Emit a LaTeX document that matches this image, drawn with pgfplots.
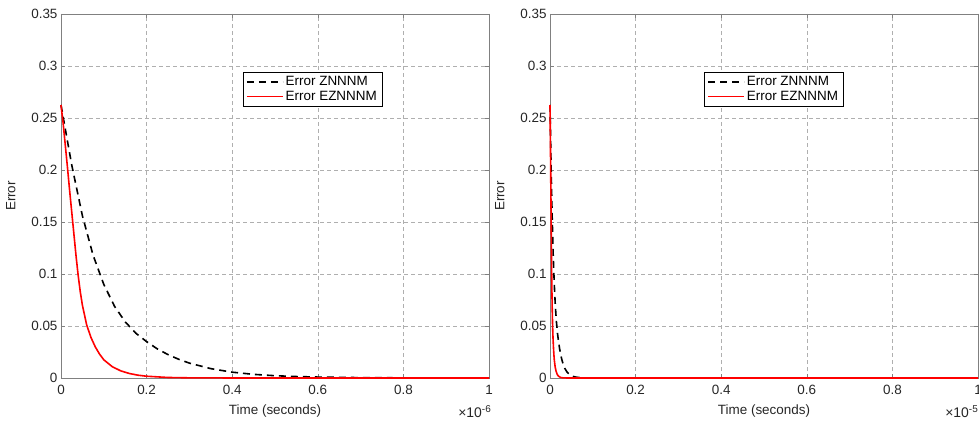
\documentclass[border=0pt]{standalone}
\usepackage{fontspec}
\setmainfont{Liberation Sans}
\usepackage{pgfplots}
\pgfplotsset{compat=1.18}
\usepackage{pgfplotstable}

\pgfplotstableread{
t e
0 0.2625
0.025 0.205
0.05 0.156
0.075 0.118
0.1 0.090
0.125 0.069
0.15 0.054
0.175 0.043
0.2 0.035
0.225 0.028
0.25 0.0225
0.275 0.018
0.3 0.0143
0.35 0.0090
0.4 0.0056
0.45 0.0035
0.5 0.0022
0.55 0.0014
0.6 0.0009
0.7 0.00035
0.8 0.00014
0.9 0.00005
1 0.00002
}\znnLeft

\pgfplotstableread{
t e
0 0.2625
0.005 0.245
0.01 0.224
0.015 0.203
0.02 0.181
0.025 0.160
0.03 0.139
0.035 0.118
0.04 0.099
0.045 0.083
0.05 0.070
0.06 0.051
0.07 0.039
0.08 0.030
0.09 0.023
0.10 0.0175
0.12 0.0108
0.14 0.0068
0.16 0.0043
0.18 0.0027
0.2 0.0017
0.25 0.0005
0.3 0.00015
0.4 0.00002
0.6 0
1 0
}\eznLeft

\pgfplotstableread{
t e
0 0.2625
0.0025 0.205
0.005 0.156
0.0075 0.118
0.01 0.090
0.0125 0.069
0.015 0.054
0.0175 0.043
0.02 0.035
0.0225 0.028
0.025 0.0225
0.0275 0.018
0.03 0.0143
0.035 0.0090
0.04 0.0056
0.045 0.0035
0.05 0.0022
0.055 0.0014
0.06 0.0009
0.07 0.00035
0.08 0.00014
0.09 0.00005
0.1 0.00002
1 0
}\znnRight

\pgfplotstableread{
t e
0 0.2625
0.0005 0.245
0.001 0.224
0.0015 0.203
0.002 0.181
0.0025 0.160
0.003 0.139
0.0035 0.118
0.004 0.099
0.0045 0.083
0.005 0.070
0.006 0.051
0.007 0.039
0.008 0.030
0.009 0.023
0.010 0.0175
0.012 0.0108
0.014 0.0068
0.016 0.0043
0.018 0.0027
0.02 0.0017
0.025 0.0005
0.03 0.00015
0.04 0.00002
0.06 0
1 0
}\eznRight

\definecolor{axgray}{RGB}{128,128,128}
\definecolor{gridgray}{RGB}{175,175,175}
\definecolor{txt}{RGB}{38,38,38}

\pgfplotsset{
  mstyle/.style={
    scale only axis,
    width=428bp, height=364bp,
    xmin=0, xmax=1, ymin=0, ymax=0.35,
    xtick={0,0.2,0.4,0.6,0.8,1},
    xticklabels={0,0.2,0.4,0.6,0.8,1},
    ytick={0,0.05,0.1,0.15,0.2,0.25,0.3,0.35},
    yticklabels={0,0.05,0.1,0.15,0.2,0.25,0.3,0.35},
    tick align=inside,
    major tick length=4bp,
    axis line style={axgray, line width=0.6bp},
    every tick/.style={axgray, line width=0.6bp},
    grid=major,
    major grid style={gridgray, dash pattern=on 4bp off 3bp, line width=0.6bp},
    tick label style={font=\fontsize{13.5}{15}\selectfont, text=txt},
    label style={font=\fontsize{13.5}{15}\selectfont, text=txt},
    xlabel={Time (seconds)},
    ylabel={Error},
    xlabel style={yshift=-3bp},
    ylabel style={yshift=9bp},
    xticklabel style={yshift=-4bp},
    clip=false,
    legend cell align=left,
    legend style={font=\fontsize{13.5}{15}\selectfont, draw=black, fill=white},
    legend image code/.code={\draw[#1] (0bp,0bp) -- (36bp,0bp);},
  }
}

\begin{document}
\begin{tikzpicture}
\begin{axis}[mstyle, at={(0bp,0bp)}, anchor=south west,
  legend style={at={(0.425,0.84)}, anchor=north west}]
\addplot[black, line width=1.6bp, dash pattern=on 7bp off 5bp] table[x=t,y=e] {\znnLeft};
\addlegendentry{Error ZNNNM}
\addplot[red, line width=1.6bp] table[x=t,y=e] {\eznLeft};
\addlegendentry{Error EZNNNM}
\node[anchor=north east, text=txt, font=\fontsize{14}{16}\selectfont, inner sep=0pt]
  at (rel axis cs:1,0) [yshift=-27bp, xshift=2bp] {×10\raisebox{0.75ex}{\fontsize{10}{12}\selectfont -6}};
\end{axis}
\begin{axis}[mstyle, at={(489bp,0bp)}, anchor=south west,
  legend style={at={(0.36,0.84)}, anchor=north west}]
\addplot[black, line width=1.6bp, dash pattern=on 7bp off 5bp] table[x=t,y=e] {\znnRight};
\addlegendentry{Error ZNNNM}
\addplot[red, line width=1.6bp] table[x=t,y=e] {\eznRight};
\addlegendentry{Error EZNNNM}
\node[anchor=north east, text=txt, font=\fontsize{14}{16}\selectfont, inner sep=0pt]
  at (rel axis cs:1,0) [yshift=-27bp, xshift=0bp] {×10\raisebox{0.75ex}{\fontsize{10}{12}\selectfont -5}};
\end{axis}
\pgfresetboundingbox
\path[use as bounding box] (-61bp,-45bp) rectangle (918bp,378bp);
\end{tikzpicture}
\end{document}
